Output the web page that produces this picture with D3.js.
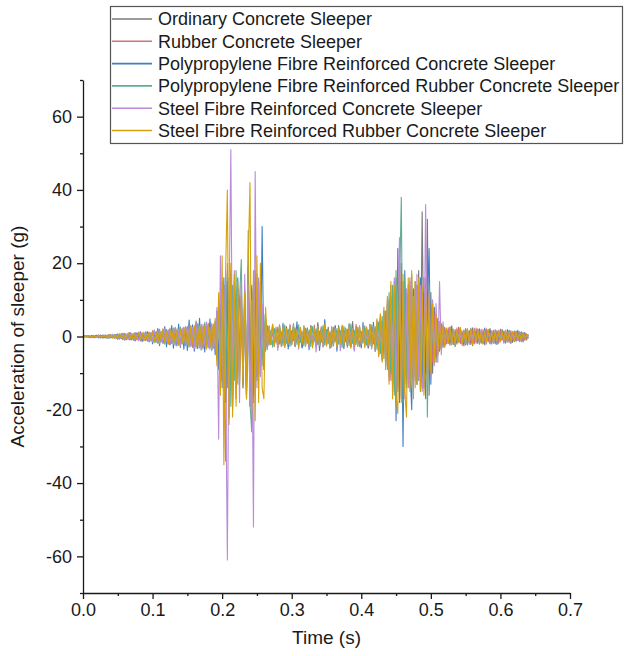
<!DOCTYPE html>
<html>
<head>
<meta charset="utf-8">
<script src="https://cdn.jsdelivr.net/npm/d3@7"></script>
<style>
  html, body { margin: 0; padding: 0; background: #fff; }
  svg { display: block; }
  text { font-family: "Liberation Sans", Arial, sans-serif; fill: #1a1a1a; }
</style>
</head>
<body>
<svg id="chart" width="625" height="656"></svg>
<script>
// ---------------- DATA ----------------
const seriesNames = [
  "Ordinary Concrete Sleeper",
  "Rubber Concrete Sleeper",
  "Polypropylene Fibre Reinforced Concrete Sleeper",
  "Polypropylene Fibre Reinforced Rubber Concrete Sleeper",
  "Steel Fibre Reinforced Concrete Sleeper",
  "Steel Fibre Reinforced Rubber Concrete Sleeper"
];
const seriesColors = ["#7a7a7a", "#d4727c", "#3f7fc4", "#5fae8e", "#b98bd9", "#d6a20c"];

const sampleStep = 0.0025; // s, time between samples (sample i at i*sampleStep)
const xTicks = [0, 0.1, 0.2, 0.3, 0.4, 0.5, 0.6, 0.7];
const xMinorTicks = [0.05, 0.15, 0.25, 0.35, 0.45, 0.55, 0.65];
const yTicks = [-60, -40, -20, 0, 20, 40, 60];
const yMinorTicks = [-70, -50, -30, -10, 10, 30, 50, 70];

const ordinary = [
0,0.1,-0.1,0.2,-0.2,0.1,-0.3,0.2,0.3,-0.2,0.4,-0.3,0.2,-0.4,0.3,0.5,-0.3,0.4,-0.5,0.3,
0.6,-0.5,0.8,-0.4,0.7,-0.9,0.5,1.0,-0.7,0.6,-1.1,0.9,-0.6,1.2,-0.8,0.7,-1.0,1.3,-0.9,0.8,
-1.4,1.5,-1.0,1.8,-1.3,0.9,-1.7,2.0,-1.2,1.4,-2.2,1.7,-1.5,2.4,-1.1,1.9,-2.5,1.3,-1.8,2.6,
-2.0,3.1,-1.6,2.2,-2.8,4.2,-1.9,2.5,-3.0,1.8,-2.4,3.5,-2.2,2.0,-3.3,2.8,
-3,5,-8,10,-12,14,-16,18,-14,12,-18,15,-10,13,-9,11,-13,9,-15,17,-19,14,-12,16,-11,9,-8,6,-5,4,
-3,2,-1.5,2.5,-2,1,-2.8,3.2,-1.2,1.8,-2.3,2.7,-1.6,0.8,-2.1,3.5,-2.6,1.4,-1.1,2.2,
-3.0,1.7,-0.9,2.4,-1.8,2.9,-2.2,1.1,-1.5,3.8,-2.7,1.6,-2.0,1.3,-1.2,2.6,-3.1,1.9,-1.4,2.1,
-2.4,3.0,-1.7,0.9,-2.6,2.3,-1.3,1.8,-2.9,4.1,-2.0,1.5,-1.8,2.7,-2.3,1.2,-1.6,2.5,-3.2,2.0,
-1.1,2.8,-2.5,3.4,-3.6,4.5,-4.8,5.2,
-6,7,-9,11,-13,15,-14,17,-18,20,-16,13,-12,14,-10,12,-11,15,-13,18,-15,34,-8,-17,32,-16,12,-10,8,-7,5,-4,3.5,-3,
2.5,-2.0,1.6,-2.4,2.9,-1.5,1.2,-2.1,2.3,-1.8,1.0,-2.6,2.0,-1.3,1.7,-2.2,2.4,-1.0,1.5,-1.9,
2.1,-1.6,0.9,-2.3,1.8,-1.4,2.2,-1.1,1.3,-2.0,1.6,-1.5,2.0,-0.9,1.4,-1.8,1.9,-1.2,0.8,-1.6,
1.5,-1.3,1.7,-1.0,1.2,-1.5,1.1,-0.8,0.5
];

const rubber = [
0,-0.1,0.2,-0.2,0.1,0.3,-0.2,-0.3,0.2,0.4,-0.3,0.1,-0.4,0.3,-0.2,0.4,0.5,-0.4,0.3,-0.5,
0.7,-0.6,0.5,-0.8,0.9,-0.5,0.6,-1.0,0.8,-0.7,1.1,-0.9,0.7,-1.2,1.0,-0.6,0.9,-1.3,1.1,-0.8,
1.6,-1.2,1.4,-1.9,1.1,-1.5,2.1,-1.4,1.7,-2.0,1.3,-1.8,2.3,-1.6,1.2,-2.4,2.0,-1.5,2.5,-1.9,
2.7,-2.3,1.9,-3.0,2.4,-1.8,3.3,-2.6,2.1,-3.4,2.8,-2.0,3.6,-2.9,2.2,-3.1,
4,-6,9,-12,15,-10,-34,20,-22,18,-15,13,-17,11,-9,14,-12,10,-16,19,-14,12,-18,15,-10,8,-7,5,-4,3,
-2.5,1.8,-2.2,1.3,-1.7,2.6,-1.9,1.2,-2.8,2.1,-1.4,1.9,-2.5,3.0,-1.6,1.1,-2.3,2.4,-1.3,1.6,
-2.7,2.2,-1.0,1.8,-2.4,1.5,-1.9,3.1,-2.2,1.0,-1.6,2.7,-2.9,1.7,-1.3,2.0,-2.1,1.4,-2.6,2.8,
-1.8,1.3,-2.2,2.5,-1.5,1.9,-3.0,2.1,-1.2,1.7,-2.4,3.3,-1.9,1.5,-2.8,2.2,-1.4,2.6,-2.0,1.8,
-2.7,3.1,-2.3,2.6,-3.9,4.2,-5.1,4.8,
6,-8,10,-12,13,-15,16,-14,18,-17,15,-13,12,-14,16,-11,10,-12,14,-10,12,-13,16,-11,13,-9,8,-7,6,-5,4,-3.5,3,-2.5,
2.1,-1.7,2.4,-1.5,1.3,-2.2,1.9,-1.2,2.6,-1.9,1.4,-1.6,2.2,-2.4,1.1,-1.3,1.8,-2.0,2.3,-1.1,
1.5,-1.8,1.9,-1.4,2.1,-1.2,1.0,-2.1,1.7,-1.5,1.3,-1.9,1.8,-1.0,1.5,-1.4,1.2,-1.7,1.6,-0.9,
1.4,-1.2,1.0,-1.4,1.3,-0.9,0.8,-1.0,0.6
];

const ppConcrete = [
0,0.2,-0.1,0.1,-0.3,0.2,0.1,-0.2,0.3,-0.4,0.2,0.3,-0.3,0.4,-0.5,0.2,-0.4,0.5,-0.3,0.6,
-0.8,0.5,-0.6,0.9,-1.0,0.6,-0.7,1.1,-0.9,0.5,-1.2,1.0,-0.8,1.3,-1.4,0.7,-1.1,1.2,-1.5,0.9,
-2.0,1.3,-1.6,2.2,-2.5,1.2,-1.9,2.7,-2.8,1.6,-2.2,3.0,-3.2,1.8,-2.6,3.4,-3.0,2.0,-3.5,2.4,
-3.8,4.5,-2.6,3.2,-4.0,2.5,-3.3,5.0,-3.6,2.8,-4.2,3.6,-2.9,4.8,-3.7,3.0,
-5,7,-9,12,-14,16,-18,15,-13,17,-20,14,-11,16,-12,10,-14,12,-17,19,-15,13,-16,18,-12,15,-10,30,-9,5,
-3.5,2.8,-2.1,3.3,-2.7,1.6,-3.0,2.4,-1.8,3.6,-2.5,1.9,-3.4,2.2,-1.4,2.9,-2.8,4.0,-2.0,1.5,
-3.1,2.6,-1.7,2.0,-3.6,2.9,-2.2,1.4,-2.6,3.2,-3.8,2.1,-1.6,4.6,-2.4,1.8,-3.0,2.5,-2.1,3.0,
-4.0,2.3,-1.9,2.8,-3.3,1.7,-2.5,3.5,-2.8,2.0,-3.7,2.6,-1.8,2.2,-3.1,3.8,-2.3,1.9,-2.9,3.3,
-2.4,3.9,-4.1,3.6,-5.2,6.0,-6.5,7.0,
-7,9,-11,10,-14,12,-23,24,-12,15,-30,18,-13,11,-9,-20,13,-11,14,-12,16,-14,12,-10,9,24,-13,9,-7,6,-5,4,-3.5,3,
-2.4,1.9,-1.6,2.5,-2.0,1.3,-2.7,1.8,-1.4,2.2,-1.9,1.5,-2.3,1.2,-1.7,2.0,-2.5,1.6,-1.1,1.9,
-2.1,1.4,-1.8,2.3,-1.3,1.7,-2.0,1.1,-1.6,1.8,-2.2,1.3,-1.2,1.9,-1.7,1.0,-1.5,1.6,-1.9,1.2,
-1.3,1.5,-1.1,1.2,-1.4,0.9,-1.0,0.7,-0.5
];

const ppRubber = [
0,-0.2,0.1,0.2,-0.1,-0.3,0.3,0.1,-0.2,0.3,-0.4,0.2,0.4,-0.3,0.2,-0.5,0.4,-0.2,0.5,-0.4,
0.6,-0.7,0.4,-0.9,0.8,-0.5,1.0,-0.8,0.6,-1.0,0.9,-0.7,1.2,-0.9,0.8,-1.1,1.3,-0.7,1.0,-1.2,
1.4,-1.7,1.2,-1.5,2.0,-1.3,1.6,-2.1,1.9,-1.4,2.3,-1.8,1.5,-2.4,2.1,-1.6,2.6,-2.0,1.7,-2.5,
2.3,-2.9,3.0,-2.1,2.6,-3.2,3.5,-2.4,2.9,-3.0,3.8,-2.7,2.5,-3.5,3.2,-2.8,
4,-6,8,-10,13,-15,17,-14,16,-19,14,-12,18,-13,10,21,-11,13,-16,29,-18,-26,15,-14,17,-11,9,-8,6,-4,
3.0,-2.4,1.7,-2.9,2.2,-1.5,2.6,-2.1,1.3,-2.5,3.1,-1.8,2.0,-2.7,1.6,-1.2,2.4,-2.2,3.2,-1.7,
1.4,-2.6,2.3,-1.9,1.8,-2.8,2.7,-1.3,2.1,-2.3,1.5,-1.6,3.0,-2.4,1.9,-2.0,1.3,-2.9,2.5,-1.4,
2.2,-2.1,1.6,-3.0,2.8,-1.5,2.0,-2.5,3.4,-1.9,1.7,-2.2,2.6,-2.8,1.4,-1.8,2.9,-2.3,1.8,-2.6,
3.1,-2.0,2.7,-3.5,4.0,-4.6,5.5,-6.0,
7,-9,12,-10,14,-16,18,-15,13,38,-18,16,-14,12,-15,17,-12,10,-13,15,-11,13,-14,16,-22,14,-10,8,-7,5,-4.5,3.5,-3,2.5,
-2.2,1.6,-1.9,2.4,-1.3,2.0,-2.5,1.4,-1.7,2.2,-1.2,1.8,-2.1,1.5,-1.0,2.3,-1.8,1.3,-1.6,2.0,
-1.5,1.1,-2.0,1.7,-1.4,1.9,-1.2,1.5,-1.8,1.0,-1.6,1.4,-1.1,1.8,-1.5,1.2,-1.3,1.7,-1.0,1.1,
-1.4,1.2,-1.0,1.3,-0.8,1.1,-0.9,0.6,-0.4
];

const steelConcrete = [
0,0.1,0.2,-0.2,0.1,-0.1,0.3,-0.3,0.2,-0.2,0.4,-0.4,0.3,0.2,-0.5,0.3,-0.3,0.6,-0.4,0.4,
-0.6,0.8,-0.5,0.7,-0.9,0.6,-0.8,1.1,-0.6,0.9,-1.0,0.7,-1.2,1.0,-0.8,1.2,-0.9,0.8,-1.3,1.1,
-1.5,1.8,-1.2,1.6,-2.0,1.4,-1.7,2.2,-1.5,1.9,-2.3,1.6,-2.1,2.5,-1.8,2.0,-2.7,2.3,-1.9,2.8,
-2.4,3.0,-2.8,2.5,-3.4,3.6,-2.5,2.9,-3.7,3.3,-2.6,4.0,-3.1,2.7,-3.9,3.4,
-4,8,-28,22,-12,14,-10,-61,10,51,-16,18,-14,12,-18,15,-11,17,-13,14,-19,10,-52,45,-14,16,-11,9,-7,5,
-3.2,2.5,-1.8,2.9,-2.4,1.7,-3.8,2.2,-1.5,2.7,-2.9,1.6,-2.2,3.3,-1.9,1.4,-2.6,2.1,-3.5,2.4,
-1.6,2.8,-2.3,1.5,-3.0,2.6,-1.8,2.0,-4.2,2.3,-2.0,1.7,-2.7,3.1,-2.5,1.3,-3.3,2.4,-1.7,2.2,
-2.8,1.9,-3.9,2.7,-2.1,1.6,-2.4,3.0,-1.7,2.2,-4.0,2.5,-2.6,1.8,-2.2,3.2,-3.0,2.1,-2.5,2.9,
-3.4,2.6,-3.8,4.4,-4.9,5.3,-6.2,6.8,
-8,10,-12,14,-11,16,-15,12,27,-16,14,-17,13,-12,15,-13,11,-14,17,-12,14,-15,-9,36,-13,12,-11,10,-8,9,-7,15,-5,4,
-3.0,2.2,-1.8,2.6,-2.3,1.5,-2.0,2.4,-1.6,1.9,-2.5,1.3,-1.7,2.1,-2.2,1.6,-1.4,2.3,-1.9,1.2,
-1.7,2.0,-1.5,1.4,-2.1,1.8,-1.3,1.6,-1.9,1.2,-1.5,1.7,-1.4,1.1,-1.8,1.5,-1.2,1.3,-1.6,1.0,
-1.2,1.4,-1.1,0.9,-1.3,1.0,-0.8,0.7,-0.5
];

const steelRubber = [
0,0.1,-0.2,0.2,0.1,-0.2,0.3,-0.1,-0.3,0.3,0.2,-0.4,0.3,-0.2,0.4,-0.3,0.5,-0.4,0.3,-0.5,
0.6,-0.4,0.7,-0.8,0.5,-0.6,0.9,-0.7,0.8,-1.0,0.6,-0.9,1.1,-0.7,1.0,-1.2,0.8,-1.0,1.2,-0.9,
1.3,-1.5,1.1,-1.8,1.6,-1.2,2.0,-1.6,1.4,-2.1,1.8,-1.5,2.2,-1.9,1.6,-2.3,2.0,-1.7,2.5,-2.2,
2.1,-2.6,2.8,-2.0,3.0,-2.7,2.4,-3.1,3.3,-2.5,2.9,-3.4,3.0,-2.8,3.6,-3.2,
5,-8,12,-16,22,-35,18,40,-24,20,-22,17,-19,15,-13,11,-14,12,-17,20,42,-21,18,-23,22,-18,20,-14,-17,8,
-3.4,2.9,-2.2,3.3,-2.6,1.9,-2.8,3.1,-1.9,2.4,-3.0,2.2,-1.6,2.8,-2.4,3.2,-2.0,1.7,-2.9,2.5,
-2.1,3.0,-2.7,1.8,-2.3,2.6,-3.1,2.0,-1.8,2.9,-2.5,2.2,-2.0,3.4,-2.6,1.6,-2.8,2.7,-2.2,2.0,
-2.9,2.4,-1.7,3.1,-2.6,2.3,-2.1,2.8,-3.2,1.9,-2.4,2.6,-2.7,3.0,-1.9,2.2,-2.8,2.5,-2.3,3.3,
-3.0,2.7,-3.6,4.8,-5.5,6.2,-7.0,8.0,
-9,11,-13,15,-17,14,-16,-21,19,-18,17,-15,-22,16,-14,18,-17,15,-13,16,-15,14,-16,13,-12,11,-10,9,-7,6,-5,4,-3.5,3,
-2.8,2.3,-1.9,2.6,-2.2,1.7,-2.4,2.0,-1.6,2.5,-2.1,1.4,-1.8,2.2,-1.5,1.9,-2.3,1.6,-1.3,2.1,
-1.8,1.5,-2.0,1.3,-1.6,1.9,-1.4,1.2,-1.7,1.6,-1.1,1.5,-1.5,1.3,-1.2,1.7,-1.4,1.0,-1.3,1.4,
-1.1,1.2,-0.9,1.0,-1.1,0.8,-0.7,0.6,-0.4
];

const seriesValues = [ordinary, rubber, ppConcrete, ppRubber, steelConcrete, steelRubber];

// ---------------- CHART ----------------
const svg = d3.select("#chart");
const margin = { left: 83, right: 55, top: 80, bottom: 63 };
const W = 625, H = 656;

const x = d3.scaleLinear().domain([0, 0.7]).range([margin.left, W - margin.right]);
const y = d3.scaleLinear().domain([-70, 70]).range([H - margin.bottom, margin.top]);

// data lines
const line = d3.line()
  .x((d, i) => x(i * sampleStep))
  .y(d => y(d));

const plot = svg.append("g");
seriesValues.forEach((vals, k) => {
  plot.append("path")
    .datum(vals)
    .attr("fill", "none")
    .attr("stroke", seriesColors[k])
    .attr("stroke-width", 1.1)
    .attr("stroke-linejoin", "round")
    .attr("d", line);
});

// axes
const fontSize = 18;
function styleAxis(g) {
  g.selectAll(".domain").attr("stroke", "#1a1a1a").attr("stroke-width", 1.3);
  g.selectAll(".tick line").attr("stroke", "#1a1a1a").attr("stroke-width", 1.3);
  g.selectAll(".tick text")
    .attr("font-size", fontSize)
    .attr("font-family", "'Liberation Sans', Arial, sans-serif")
    .attr("fill", "#1a1a1a");
}

const xAxisG = svg.append("g")
  .attr("transform", `translate(0,${y(-70)})`)
  .call(d3.axisBottom(x).tickValues(xTicks).tickFormat(d => d.toFixed(1)).tickSize(6).tickSizeOuter(0).tickPadding(4));
styleAxis(xAxisG);
const xMinorG = svg.append("g")
  .attr("transform", `translate(0,${y(-70)})`)
  .call(d3.axisBottom(x).tickValues(xMinorTicks).tickFormat("").tickSize(3).tickSizeOuter(0));
styleAxis(xMinorG);
xMinorG.select(".domain").remove();

const yAxisG = svg.append("g")
  .attr("transform", `translate(${x(0)},0)`)
  .call(d3.axisLeft(y).tickValues(yTicks).tickFormat(d => String(d)).tickSize(6).tickSizeOuter(0).tickPadding(5));
styleAxis(yAxisG);
const yMinorG = svg.append("g")
  .attr("transform", `translate(${x(0)},0)`)
  .call(d3.axisLeft(y).tickValues(yMinorTicks).tickFormat("").tickSize(3).tickSizeOuter(0));
styleAxis(yMinorG);
yMinorG.select(".domain").remove();

// axis titles
svg.append("text")
  .attr("x", (x(0) + x(0.7)) / 2)
  .attr("y", 644)
  .attr("text-anchor", "middle")
  .attr("font-size", 19)
  .text("Time (s)");

svg.append("text")
  .attr("transform", `translate(24,${y(0)}) rotate(-90)`)
  .attr("text-anchor", "middle")
  .attr("font-size", 19)
  .text("Acceleration of sleeper (g)");

// legend
const legend = svg.append("g");
legend.append("rect")
  .attr("x", 110.5).attr("y", 6.5)
  .attr("width", 512).attr("height", 137)
  .attr("fill", "#fff")
  .attr("stroke", "#555").attr("stroke-width", 1.2);

seriesNames.forEach((name, k) => {
  const yy = 19 + k * 22.3;
  legend.append("line")
    .attr("x1", 112).attr("x2", 152)
    .attr("y1", yy).attr("y2", yy)
    .attr("stroke", seriesColors[k])
    .attr("stroke-width", 1.6);
  legend.append("text")
    .attr("x", 158).attr("y", yy + 6.3)
    .attr("font-size", 18)
    .text(name);
});
</script>
</body>
</html>
